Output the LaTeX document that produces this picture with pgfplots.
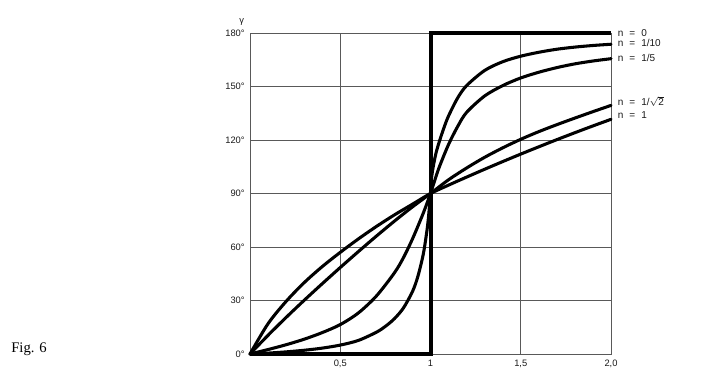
\documentclass[border=0pt]{standalone}
\usepackage{fontspec}
\setmainfont{Liberation Sans}
\newfontfamily\figfont{Liberation Serif}
\usepackage{pgfplots}
\pgfplotsset{compat=1.18}
\usepackage{pgfplotstable}

% n = 1
\pgfplotstableread{
x y
0 0
0.1 17
0.2 29.5
0.3 40
0.4 49
0.5 57
0.6 64.5
0.7 71.5
0.8 78
0.9 84
1 90
1.1 94.7
1.2 99.2
1.3 103.6
1.4 107.9
1.5 112.1
1.6 116.2
1.7 120.2
1.8 124.1
1.9 127.9
2 131.6
}\nOne

% n = 1/sqrt2
\pgfplotstableread{
x y
0 0
0.1 10.5
0.2 20.5
0.3 30.1
0.4 39.4
0.5 48.5
0.6 57.4
0.7 66.1
0.8 74.5
0.9 82.5
1 90
1.1 97.7
1.2 104.3
1.3 110.3
1.4 115.6
1.5 120.4
1.6 124.7
1.7 128.6
1.8 132.3
1.9 135.9
2 139.4
}\nRoot

% n = 1/5
\pgfplotstableread{
x y
0 0
0.1 2.5
0.2 5.2
0.3 8.3
0.4 12
0.5 16.5
0.6 23
0.7 32.5
0.8 45.5
0.85 54
0.9 64.5
0.95 76.5
0.975 83
1 90
1.025 97.8
1.05 105.2
1.1 117.5
1.15 127.5
1.2 135.5
1.3 144.7
1.4 150.5
1.5 154.8
1.6 158
1.7 160.6
1.8 162.7
1.9 164.3
2 165.6
}\nFifth

% n = 1/10
\pgfplotstableread{
x y
0 0
0.1 0.5
0.2 1.2
0.3 2.1
0.4 3.3
0.5 5
0.6 7.6
0.7 12.2
0.75 15.5
0.8 19.8
0.85 25.8
0.9 35
0.93 43.5
0.96 56
0.98 69
0.99 78
1 90
1.005 98
1.015 105
1.03 112.5
1.05 119.5
1.075 127
1.1 133.5
1.15 143.5
1.2 150.5
1.3 159
1.4 163.9
1.5 167
1.6 169.2
1.7 170.9
1.8 172.1
1.9 173
2 173.7
}\nTenth

% n = 0
\pgfplotstableread{
x y
0 0
1 0
1 180
2 180
}\nZero

\begin{document}
\begin{tikzpicture}
\path (0,0) rectangle (543pt,279pt);
\node[font=\figfont\fontsize{11}{13}\selectfont] at (21.75pt,17.25pt) {Fig. 6};
\begin{axis}[
  at={(187.5pt,13.5pt)}, anchor=south west,
  scale only axis, width=270.75pt, height=240.75pt,
  xmin=0, xmax=2, ymin=0, ymax=180,
  clip=false,
  axis line style={gray!70!black, line width=0.6pt},
  grid=major,
  major grid style={gray!70!black, line width=0.5pt},
  major tick length=0pt,
  xtick={0.5,1,1.5,2},
  xticklabels={{0,5},1,{1,5},{2,0}},
  ytick={0,30,60,90,120,150,180},
  yticklabels={0°,30°,60°,90°,120°,150°,180°},
  tick label style={font=\fontsize{7}{8}\selectfont, text=black!90},
  xticklabel style={yshift=-1pt},
  yticklabel style={xshift=-0.5pt},
  every axis plot/.append style={line width=2.3pt, black, line join=round, line cap=round},
]
\addplot[smooth] table[x=x,y=y] {\nOne};
\addplot[smooth] table[x=x,y=y] {\nRoot};
\addplot[smooth] table[x=x,y=y] {\nFifth};
\addplot[smooth] table[x=x,y=y] {\nTenth};
\addplot[line width=3pt, line join=miter, line cap=butt] table[x=x,y=y] {\nZero};
\begin{scope}[every node/.style={anchor=west, inner sep=0pt, xshift=5pt, font=\fontsize{7.5}{9}\selectfont, text=black!90}]
\node at (axis cs:2,180) {n\hspace{0.6em}=\hspace{0.6em}0};
\node at (axis cs:2,174.3) {n\hspace{0.6em}=\hspace{0.6em}1/10};
\node at (axis cs:2,165.8) {n\hspace{0.6em}=\hspace{0.6em}1/5};
\node at (axis cs:2,141.8) {n\hspace{0.6em}=\hspace{0.6em}1/$\sqrt{\mbox{2}}$};
\node at (axis cs:2,134) {n\hspace{0.6em}=\hspace{0.6em}1};
\end{scope}
\node[font=\fontsize{7}{8}\selectfont, text=black!90] at ([xshift=-6.2pt,yshift=8.3pt]rel axis cs:0,1) {γ};
\end{axis}
\end{tikzpicture}
\end{document}
